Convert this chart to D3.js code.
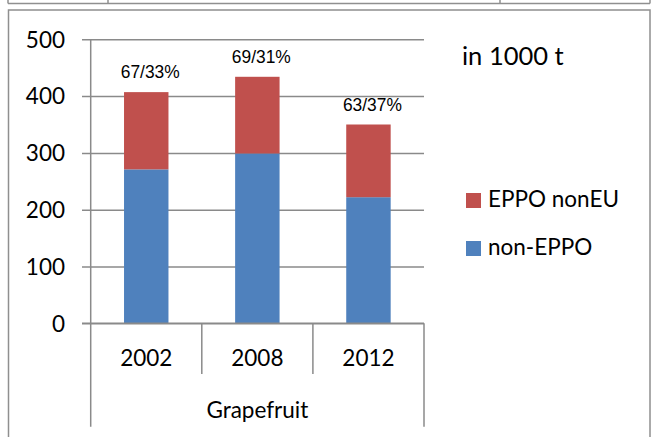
<!DOCTYPE html>
<html>
<head>
<meta charset="utf-8">
<script src="https://cdn.jsdelivr.net/npm/d3@7"></script>
<style>
  html, body { margin: 0; padding: 0; background: #fff; }
  svg { display: block; }
</style>
</head>
<body>
<svg id="chart" width="655" height="437"></svg>
<script>
// ---- data ----
const groupLabel = "Grapefruit";
const years = ["2002", "2008", "2012"];
const nonEPPO = [271, 299, 222];
const eppoNonEU = [136, 135, 128];
const shareLabels = ["67/33%", "69/31%", "63/37%"];
const seriesNames = ["EPPO nonEU", "non-EPPO"];
const yTicks = [0, 100, 200, 300, 400, 500];
const unitLabel = "in 1000 t";

// ---- styles ----
const colors = { "non-EPPO": "#4F81BD", "EPPO nonEU": "#C0504D" };
const gridColor = "#8a8a8a";
const frameColor = "#8f8f8f";
const mainFont = "Lato, 'Open Sans', sans-serif";
const labelFont = "'Liberation Sans', Arial, sans-serif";

const svg = d3.select("#chart");

// top strip (cut-off table row above the chart)
const strip = svg.append("g").attr("stroke", frameColor).attr("stroke-width", 1.5).attr("fill", "none");
strip.append("line").attr("x1", 8).attr("x2", 650).attr("y1", 3.5).attr("y2", 3.5);
[8, 108, 500, 650].forEach(x => strip.append("line").attr("x1", x).attr("x2", x).attr("y1", 0).attr("y2", 3.5));

// chart frame
svg.append("rect").attr("x", 8.5).attr("y", 10).attr("width", 641.5).attr("height", 440)
  .attr("fill", "none").attr("stroke", frameColor).attr("stroke-width", 1.5);

// scales
const plotLeft = 90.7, plotRight = 424;
const x = d3.scaleBand().domain(years).range([plotLeft, plotRight]).paddingInner(0).paddingOuter(0);
const y = d3.scaleLinear().domain([0, 500]).range([323.3, 39.3]);
const barW = x.bandwidth() * 0.4;

// gridlines + y ticks
const yAxis = d3.axisLeft(y).tickValues(yTicks).tickSize(plotRight - 82).tickFormat(d3.format("d"));
const gy = svg.append("g").attr("transform", `translate(${plotRight},0)`).call(yAxis);
gy.select(".domain").remove();
gy.selectAll(".tick line").attr("stroke", gridColor).attr("stroke-width", 1.5);
gy.selectAll(".tick text")
  .attr("x", -(plotRight - 65))
  .attr("dy", "0.35em")
  .attr("font-family", mainFont).attr("font-size", 22.5).attr("fill", "#000");

// stacked bars
const stackData = years.map((yr, i) => ({ year: yr, "non-EPPO": nonEPPO[i], "EPPO nonEU": eppoNonEU[i] }));
const stack = d3.stack().keys(["non-EPPO", "EPPO nonEU"])(stackData);
svg.append("g").selectAll("g").data(stack).join("g")
  .attr("fill", d => colors[d.key])
  .selectAll("rect").data(d => d).join("rect")
  .attr("x", d => x(d.data.year) + (x.bandwidth() - barW) / 2)
  .attr("width", barW)
  .attr("y", d => y(d[1]))
  .attr("height", d => y(d[0]) - y(d[1]));

// share labels above bars
svg.append("g").selectAll("text").data(years).join("text")
  .attr("x", (d) => x(d) + x.bandwidth() / 2 + 4)
  .attr("y", (d, i) => y(nonEPPO[i] + eppoNonEU[i]) - 14)
  .attr("text-anchor", "middle")
  .attr("font-family", labelFont).attr("font-size", 18)
  .attr("textLength", 59).attr("lengthAdjust", "spacingAndGlyphs")
  .attr("fill", "#000")
  .text((d, i) => shareLabels[i]);

// axes lines (y-axis and baseline drawn over bars)
const axisG = svg.append("g").attr("stroke", gridColor).attr("stroke-width", 1.5);
axisG.append("line").attr("x1", 82).attr("x2", plotRight).attr("y1", y(0)).attr("y2", y(0));
axisG.append("line").attr("x1", plotLeft).attr("x2", plotLeft).attr("y1", y(500)).attr("y2", 426.7);
// category separators
years.forEach((yr, i) => {
  if (i > 0) axisG.append("line").attr("x1", x(yr)).attr("x2", x(yr)).attr("y1", y(0)).attr("y2", 374);
});
axisG.append("line").attr("x1", plotRight).attr("x2", plotRight).attr("y1", y(0)).attr("y2", 426.7);

// year labels
svg.append("g").selectAll("text").data(years).join("text")
  .attr("x", d => x(d) + x.bandwidth() / 2)
  .attr("y", 365.7)
  .attr("text-anchor", "middle")
  .attr("font-family", mainFont).attr("font-size", 22.5).attr("fill", "#000")
  .text(d => d);

// group label
svg.append("text")
  .attr("x", (plotLeft + plotRight) / 2).attr("y", 418)
  .attr("text-anchor", "middle")
  .attr("font-family", mainFont).attr("font-size", 22.5).attr("fill", "#000")
  .text(groupLabel);

// unit label
svg.append("text").attr("x", 462).attr("y", 65)
  .attr("font-family", mainFont).attr("font-size", 25.5).attr("fill", "#000")
  .text(unitLabel);

// legend
const legend = svg.append("g").selectAll("g").data(seriesNames).join("g")
  .attr("transform", (d, i) => `translate(466, ${193 + i * 48})`);
legend.append("rect").attr("width", 15).attr("height", 15).attr("fill", d => colors[d]);
legend.append("text").attr("x", 22).attr("y", 14)
  .attr("font-family", mainFont).attr("font-size", 22.5).attr("fill", "#000")
  .text(d => d);
</script>
</body>
</html>
